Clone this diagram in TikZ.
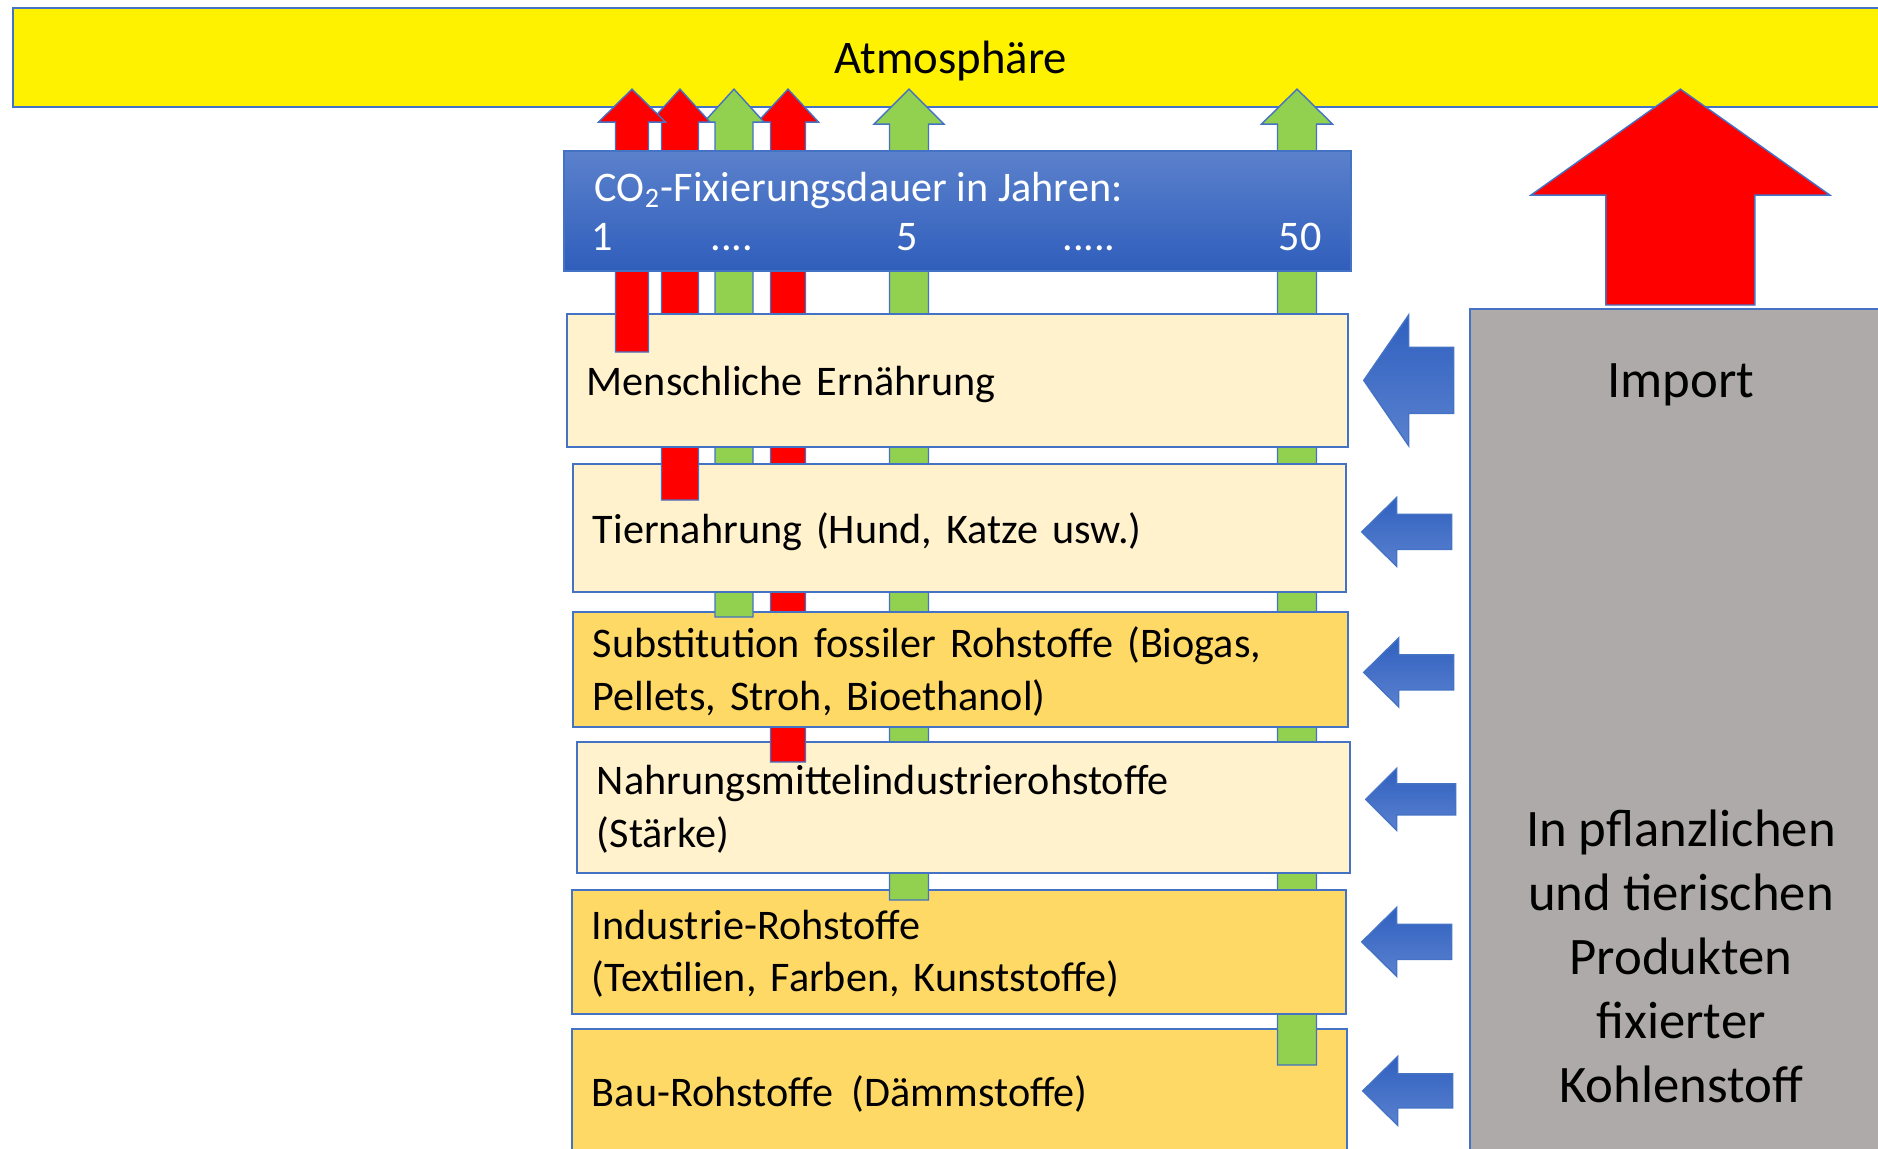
\documentclass[tikz,border=0pt]{standalone}
\usepackage{fontspec}
\setmainfont{Carlito}
\usepackage{tikz}
\usetikzlibrary{calc}
\definecolor{outline}{HTML}{4472C4}
\definecolor{lightbox}{HTML}{FFF2CC}
\definecolor{darkbox}{HTML}{FFD966}
\definecolor{fixred}{HTML}{FF0000}
\definecolor{fixgreen}{HTML}{92D050}
\definecolor{importgray}{HTML}{AEAAAA}
\definecolor{headtop}{HTML}{5B81CC}
\definecolor{headbottom}{HTML}{2F5EBB}
\definecolor{feedtop}{HTML}{2F60BF}
\definecolor{feedbottom}{HTML}{5A81CF}
% Block arrow pointing up: colour, tail, tip level, shaft width, head width, head length.
\newcommand{\fixarrow}[6]{%
    \filldraw [fixarrow, fill=#1]
        ($(#2)+(-#4/2, 0)$) -- ($(#2 |- #3)+(-#4/2, #6)$) -- ($(#2 |- #3)+(-#5/2, #6)$)
        -- (#2 |- #3) -- ($(#2 |- #3)+(#5/2, #6)$) -- ($(#2 |- #3)+(#4/2, #6)$)
        -- ($(#2)+(#4/2, 0)$) -- cycle;
}
\tikzstyle{atmo} = [draw=outline, line width=0.6pt, fill=yellow, rectangle, anchor=north west]
\tikzstyle{box} = [draw=outline, line width=0.5pt, rectangle, anchor=north west, inner xsep=2mm, align=left, font=\fontsize{12}{14.9}\selectfont]
\tikzstyle{oneline} = [box, text depth=0pt]
\tikzstyle{twoline} = [box, text depth=15.4pt]
\tikzstyle{header} = [draw=outline, line width=0.5pt, rectangle, anchor=north west, top color=headtop, bottom color=headbottom]
\tikzstyle{year} = [text=white, inner sep=0pt, font=\fontsize{12}{14.5}\selectfont]
\tikzstyle{importbox} = [draw=outline, line width=0.5pt, fill=importgray, rectangle, anchor=north west]
\tikzstyle{bigtext} = [align=center, font=\fontsize{15}{18.2}\selectfont]
\tikzstyle{fixarrow} = [draw=outline, line width=0.4pt]
\tikzstyle{feed} = [draw=outline, line width=0.4pt, top color=feedtop, bottom color=feedbottom]

\begin{document}
\begin{tikzpicture}[x=0.1mm, y=-0.1mm]
    \useasboundingbox (0, 0) rectangle (1878, 1148);

    % Atmosphere.
    \node (atmo) [atmo, minimum width=187.8mm, minimum height=9.9mm] at (12, 7) {};
    \node (atmo label) [font=\fontsize{13.3}{16}\selectfont] at (951, 61) {Atmosphäre};
    \coordinate (atmo tip) at ($(atmo.south)+(0, -19)$);

    % Products with their arrows, from the bottom up.
    \node (building) [oneline, fill=darkbox, text width=73.5mm, minimum height=12.4mm] at (571, 1028) {Bau-Rohstoffe\hspace{0.45em}(Dämmstoffe)};
    \coordinate (green3) at ($(building.north west)+(726, 37)$);
    \fixarrow{fixgreen}{green3}{atmo tip}{39}{71}{35}

    \node (industry) [twoline, fill=darkbox, text width=73.4mm, minimum height=12.4mm] at (571, 889) {Industrie-Rohstoffe\\(Textilien, Farben, Kunststoffe)};
    \coordinate (green2) at ($(industry.north west)+(338, 11)$);
    \fixarrow{fixgreen}{green2}{atmo tip}{39}{70}{35}

    \node (starch) [twoline, fill=lightbox, text width=73.3mm, minimum height=13.1mm] at (576, 741) {Nahrungsmittelindustrierohstoffe\\(Stärke)};
    \coordinate (red3) at ($(starch.north west)+(212, 21)$);
    \fixarrow{fixred}{red3}{atmo tip}{35}{61}{33}

    \node (fuel) [twoline, fill=darkbox, text width=73.5mm, minimum height=11.5mm] at (572, 611) {Substitution fossiler Rohstoffe (Biogas,\\Pellets, Stroh, Bioethanol)};
    \coordinate (green1) at ($(fuel.north west)+(162, 6)$);
    \fixarrow{fixgreen}{green1}{atmo tip}{38}{60}{33}

    \node (pet) [oneline, fill=lightbox, text width=73.3mm, minimum height=12.8mm] at (572, 463) {Tiernahrung (Hund, Katze usw.)};
    \coordinate (red2) at ($(pet.north west)+(108, 37)$);
    \fixarrow{fixred}{red2}{atmo tip}{37}{60}{33}

    \node (food) [oneline, fill=lightbox, text width=74.1mm, minimum height=13.3mm] at (566, 313) {Menschliche Ernährung};
    \coordinate (red1) at ($(food.north west)+(66, 39)$);
    \fixarrow{fixred}{red1}{atmo tip}{33}{67}{33}

    % Fixation time scale.
    \node (header) [header, minimum width=78.7mm, minimum height=12mm] at (563, 150) {};
    \node (header title) [year, anchor=base west] at (594, 201) {CO\textsubscript{2}-Fixierungsdauer in Jahren:};
    \node (year 1) [year, anchor=base] at (602, 251) {1};
    \node (year dots 1) [year, anchor=base] at (732, 251) {....};
    \node (year 5) [year, anchor=base] at (907, 251) {5};
    \node (year dots 2) [year, anchor=base] at (1089, 251) {.....};
    \node (year 50) [year, anchor=base] at (1300, 251) {50};

    % Import.
    \node (import) [importbox, minimum width=42.1mm, minimum height=85mm] at (1469, 308) {};
    \node (import label) [bigtext] at (1681, 385) {Import};
    \node (carbon label) [bigtext] at (1681, 956) {In pflanzlichen\\und tierischen\\Produkten\\fixierter\\Kohlenstoff};
    \coordinate (import tail) at ($(import.north)+(0, -3)$);
    \fixarrow{fixred}{import tail}{atmo tip}{149}{299}{106}

    \foreach \target/\dy/\shaft/\head/\len in {food/0/66/131/45, pet/4/35/69/35, fuel/3/35/69/35, starch/-8/31/62/31, industry/-10/35/69/35, building/0/34/69/35} {
        \path [feed] ($(\target.east)+(15, \dy)$) -- ++(\len, -\head/2) -- ++(0, {(\head-\shaft)/2})
            -- ++(90-\len, 0) -- ++(0, \shaft) -- ++(\len-90, 0) -- ++(0, {(\head-\shaft)/2}) -- cycle;
    }
\end{tikzpicture}
\end{document}
